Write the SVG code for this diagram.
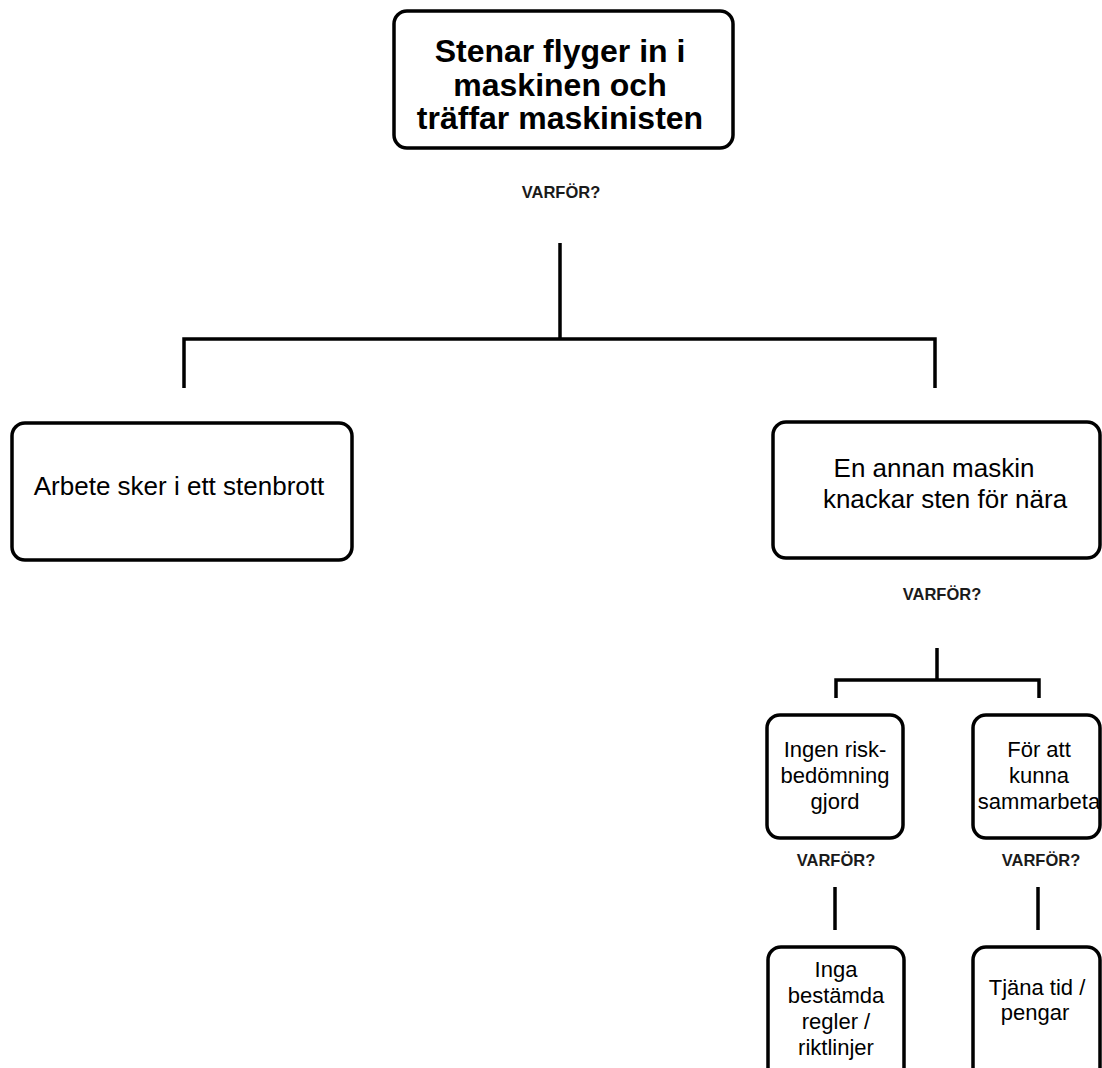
<svg xmlns="http://www.w3.org/2000/svg" width="1102" height="1068" viewBox="0 0 1102 1068">
<style>
.box{fill:#fff;stroke:#000;stroke-width:3.5}
.t{font-family:"Liberation Sans",Arial,sans-serif;fill:#000;text-anchor:middle}
.big{font-size:32px;font-weight:bold}
.mid{font-size:26px}
.sm{font-size:22px}
.q{font-family:"Liberation Sans",Arial,sans-serif;font-size:16.5px;font-weight:bold;fill:#1a1a1a;text-anchor:middle}
.ln{stroke:#000;stroke-width:3.5;fill:none}
</style>
<rect width="1102" height="1068" fill="#fff"/>
<g id="connectors">
<path class="ln" d="M560 243V339M184 388V339H935V388"/>
<path class="ln" d="M937 648V680M836 698V680H1039V698"/>
<path class="ln" d="M835 887V930"/>
<path class="ln" d="M1038 887V930"/>
</g>
<g id="labels">
<text class="q" x="561" y="198">VARFÖR?</text>
<text class="q" x="942" y="600">VARFÖR?</text>
<text class="q" x="836" y="866">VARFÖR?</text>
<text class="q" x="1041" y="866">VARFÖR?</text>
</g>
<g id="n1">
<rect class="box" x="394" y="11" width="339" height="137" rx="13"/>
<text class="t big"><tspan x="560" y="62">Stenar flyger in i</tspan><tspan x="560" y="96">maskinen och</tspan><tspan x="560" y="129">träffar maskinisten</tspan></text>
</g>
<g id="n2">
<rect class="box" x="12" y="423" width="340" height="137" rx="13"/>
<text class="t mid" x="179" y="495">Arbete sker i ett stenbrott</text>
</g>
<g id="n3">
<rect class="box" x="773" y="422" width="327" height="136" rx="13"/>
<text class="t mid"><tspan x="934" y="477">En annan maskin</tspan><tspan x="945" y="508">knackar sten för nära</tspan></text>
</g>
<g id="n4">
<rect class="box" x="767" y="715" width="136" height="123" rx="13"/>
<text class="t sm"><tspan x="835" y="757">Ingen risk-</tspan><tspan x="835" y="783">bedömning</tspan><tspan x="835" y="809">gjord</tspan></text>
</g>
<g id="n5">
<rect class="box" x="973" y="715" width="127" height="123" rx="13"/>
<text class="t sm"><tspan x="1039" y="757">För att</tspan><tspan x="1039" y="783">kunna</tspan><tspan x="1039" y="809">sammarbeta</tspan></text>
</g>
<g id="n6">
<rect class="box" x="768" y="947" width="136" height="150" rx="13"/>
<text class="t sm"><tspan x="836" y="977">Inga</tspan><tspan x="836" y="1003">bestämda</tspan><tspan x="836" y="1029">regler /</tspan><tspan x="836" y="1055">riktlinjer</tspan></text>
</g>
<g id="n7">
<rect class="box" x="973" y="947" width="127" height="150" rx="13"/>
<text class="t sm"><tspan x="1037" y="995">Tjäna tid /</tspan><tspan x="1035" y="1020">pengar</tspan></text>
</g>
</svg>
